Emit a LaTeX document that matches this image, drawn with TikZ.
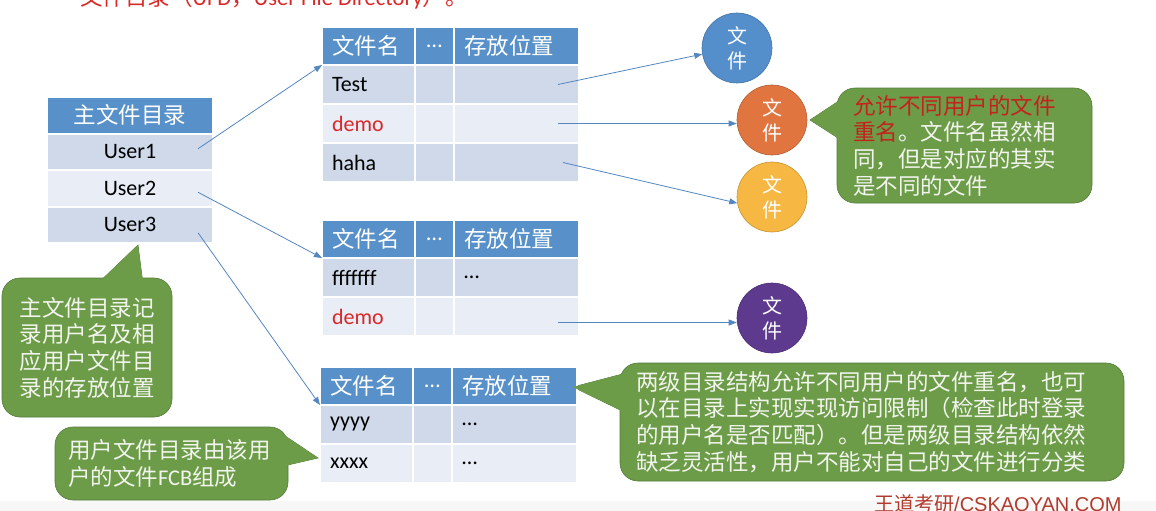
\documentclass[tikz,border=0pt]{standalone}
\usepackage{fontspec}
\setmainfont{Carlito}
\newfontfamily\cjk{Noto Sans CJK SC}
\newfontfamily\wmfont{Liberation Sans}
\definecolor{dirHead}{RGB}{88,145,201}
\definecolor{dirRowA}{RGB}{207,217,234}
\definecolor{dirRowB}{RGB}{232,237,246}
\definecolor{dirLink}{RGB}{84,134,192}
\definecolor{noteGreen}{RGB}{108,156,72}
\definecolor{noteEdge}{RGB}{84,122,56}
\definecolor{noteText}{RGB}{242,244,238}
\definecolor{noteRed}{RGB}{196,34,28}
\definecolor{nameRed}{RGB}{218,40,40}
\definecolor{fileBlue}{RGB}{84,142,203}
\definecolor{fileOrange}{RGB}{224,117,64}
\definecolor{fileYellow}{RGB}{246,184,66}
\definecolor{filePurple}{RGB}{94,58,142}
\definecolor{markRed}{RGB}{178,58,44}
\usepackage{tikz}
\usetikzlibrary{arrows.meta,positioning,calc,backgrounds}

\begin{document}
\begin{tikzpicture}[x=1pt, y=-1pt,
  cell/.style={draw=white, line width=2pt, outer sep=0pt, inner xsep=10pt,
               inner ysep=0pt, align=left, font=\fontsize{22}{26}\selectfont},
  head/.style={cell, fill=dirHead, text=white, minimum height=38pt,
               font=\cjk\fontsize{22.5}{26}\selectfont},
  rowA/.style={cell, fill=dirRowA, minimum height=39pt},
  rowB/.style={cell, fill=dirRowB, minimum height=39pt},
  namecol/.style={text width=73pt},
  dotcol/.style={text width=19pt, align=center},
  loccol/.style={text width=105pt},
  mcol/.style={text width=146pt, align=center, minimum height=36.5pt},
  file/.style={circle, minimum size=70pt, inner sep=0pt, fill=#1,
               draw=#1!80!black, line width=0.6pt, text=white, align=center,
               font=\cjk\fontsize{20}{25}\selectfont},
  note/.style={fill=noteGreen, draw=noteEdge, line width=0.6pt,
               rounded corners=18pt, text=noteText, inner ysep=0pt,
               align=left, font=\cjk\fontsize{22.5}{26.7}\selectfont},
  pointer/.style={fill=noteGreen, draw=noteEdge, line width=0.6pt},
  link/.style={draw=dirLink, line width=0.8pt, -{Triangle[length=8pt,width=6pt]}}
]
  \useasboundingbox (0,0) rectangle (1156,511);

  % heading line cut off at the top
  \node[anchor=base west, text=nameRed, inner sep=0pt,
        font=\cjk\fontsize{22.5}{27}\selectfont] (ufd) at (80,6)
        {文件目录（{\rmfamily UFD}，{\rmfamily User File Directory}）。};

  % master file directory
  \node[head, mcol, anchor=north west] (mfd) at (47,97) {主文件目录};
  \node[rowA, mcol, below=0pt of mfd] (u1) {User1};
  \node[rowB, mcol, below=0pt of u1] (u2) {User2};
  \node[rowA, mcol, below=0pt of u2] (u3) {User3};

  % user file directory of User1
  \node[head, namecol, anchor=north west] (ta-h) at (322,27) {文件名};
  \node[head, dotcol, right=0pt of ta-h] (ta-hd) {\rmfamily …};
  \node[head, loccol, right=0pt of ta-hd] (ta-hl) {存放位置};
  \node[rowA, namecol, below=0pt of ta-h] (ta-1) {Test};
  \node[rowA, dotcol, right=0pt of ta-1] (ta-1d) {};
  \node[rowA, loccol, right=0pt of ta-1d] (ta-1l) {};
  \node[rowB, namecol, below=0pt of ta-1] (ta-2) {\textcolor{nameRed}{demo}};
  \node[rowB, dotcol, right=0pt of ta-2] (ta-2d) {};
  \node[rowB, loccol, right=0pt of ta-2d] (ta-2l) {};
  \node[rowA, namecol, below=0pt of ta-2] (ta-3) {haha};
  \node[rowA, dotcol, right=0pt of ta-3] (ta-3d) {};
  \node[rowA, loccol, right=0pt of ta-3d] (ta-3l) {};

  % user file directory of User2
  \node[head, namecol, anchor=north west] (tb-h) at (322,220) {文件名};
  \node[head, dotcol, right=0pt of tb-h] (tb-hd) {\rmfamily …};
  \node[head, loccol, right=0pt of tb-hd] (tb-hl) {存放位置};
  \node[rowA, namecol, below=0pt of tb-h] (tb-1) {fffffff};
  \node[rowA, dotcol, right=0pt of tb-1] (tb-1d) {};
  \node[rowA, loccol, right=0pt of tb-1d] (tb-1l) {…};
  \node[rowB, namecol, below=0pt of tb-1] (tb-2) {\textcolor{nameRed}{demo}};
  \node[rowB, dotcol, right=0pt of tb-2] (tb-2d) {};
  \node[rowB, loccol, right=0pt of tb-2d] (tb-2l) {};

  % user file directory of User3
  \node[head, namecol, anchor=north west] (tc-h) at (320,367) {文件名};
  \node[head, dotcol, right=0pt of tc-h] (tc-hd) {\rmfamily …};
  \node[head, loccol, right=0pt of tc-hd] (tc-hl) {存放位置};
  \node[rowA, namecol, below=0pt of tc-h] (tc-1) {yyyy};
  \node[rowA, dotcol, right=0pt of tc-1] (tc-1d) {};
  \node[rowA, loccol, right=0pt of tc-1d] (tc-1l) {…};
  \node[rowB, namecol, below=0pt of tc-1] (tc-2) {xxxx};
  \node[rowB, dotcol, right=0pt of tc-2] (tc-2d) {};
  \node[rowB, loccol, right=0pt of tc-2d] (tc-2l) {…};

  % files
  \node[file=fileBlue] (f1) at (737,48) {文\\件};
  \node[file=fileOrange] (f2) at (772,120) {文\\件};
  \node[file=fileYellow] (f3) at (772,197) {文\\件};
  \node[file=filePurple] (f4) at (772,318) {文\\件};

  \draw[link] ([xshift=-15pt,yshift=3pt]u1.east) -- (ta-h.south west);
  \draw[link] ([xshift=-15pt,yshift=-4pt]u2.east) -- (tb-h.south west);
  \draw[link] ([xshift=-15pt,yshift=-8pt]u3.east) -- (tc-h.south west);
  \draw[link] ([xshift=-21pt]ta-1l.east) -- (f1.190);
  \draw[link] ([xshift=-21pt]ta-2l.east) -- (ta-2l.east -| f2.west);
  \draw[link] ([xshift=-16pt]ta-3l.east) -- (f3.190);
  \coordinate (s4) at ([xshift=-21pt,yshift=-6pt]tb-2l.east);
  \draw[link] (s4) -- (s4 -| f4.west);

  % notes
  \node[note, text width=140pt, inner xsep=15pt, minimum height=139pt,
        align=center] (n1) at (87,347.5)
        {主文件目录记\\录用户名及相\\应用户文件目\\录的存放位置};
  \node[note, text width=223pt, inner xsep=16pt, minimum height=115pt]
        (n2) at (964.5,145.5)
        {\textcolor{noteRed}{允许不同用户的文件}\\\textcolor{noteRed}{重名}。文件名虽然相\\同，但是对应的其实\\是不同的文件};
  \node[note, text width=207pt, inner xsep=13pt, minimum height=73pt]
        (n3) at (171.5,463.5)
        {用户文件目录由该用\\户的文件{\rmfamily FCB}组成};
  \node[note, text width=472pt, inner xsep=16pt, minimum height=118pt]
        (n4) at (872,422)
        {两级目录结构允许不同用户的文件重名，也可\\以在目录上实现实现访问限制（检查此时登录\\的用户名是否匹配）。但是两级目录结构依然\\缺乏灵活性，用户不能对自己的文件进行分类};

  \coordinate (p1) at (138,245);
  \coordinate (p2) at (810,120);
  \coordinate (p3) at (318,458);
  \coordinate (p4) at (573,387);
  \begin{scope}[on background layer]
    \fill[gray!6] (0,501) rectangle (1156,511);
    \draw[pointer] (p1) -- ($(n1.north west)+(98,4)$) -- ($(n1.north west)+(141,4)$) -- cycle;
    \draw[pointer] (p2) -- ($(n2.north west)+(4,12)$) -- ($(n2.north west)+(4,52)$) -- cycle;
    \draw[pointer] (p3) -- ($(n3.north east)+(-8,6)$) -- ($(n3.north east)+(-8,40)$) -- cycle;
    \draw[pointer] (p4) -- ($(n4.north west)+(4,11)$) -- ($(n4.north west)+(4,49)$) -- cycle;
  \end{scope}
  \fill[noteGreen] (p1) -- ($(n1.north west)+(98,4)$) -- ($(n1.north west)+(141,4)$) -- cycle;
  \fill[noteGreen] (p2) -- ($(n2.north west)+(4,12)$) -- ($(n2.north west)+(4,52)$) -- cycle;
  \fill[noteGreen] (p3) -- ($(n3.north east)+(-8,6)$) -- ($(n3.north east)+(-8,40)$) -- cycle;
  \fill[noteGreen] (p4) -- ($(n4.north west)+(4,11)$) -- ($(n4.north west)+(4,49)$) -- cycle;

  \node[anchor=base west, inner sep=0pt, text=markRed,
        font=\cjk\fontsize{20}{24}\selectfont] (mark) at (874,511)
        {王道考研{\wmfont/CSKAOYAN.COM}};
\end{tikzpicture}
\end{document}
